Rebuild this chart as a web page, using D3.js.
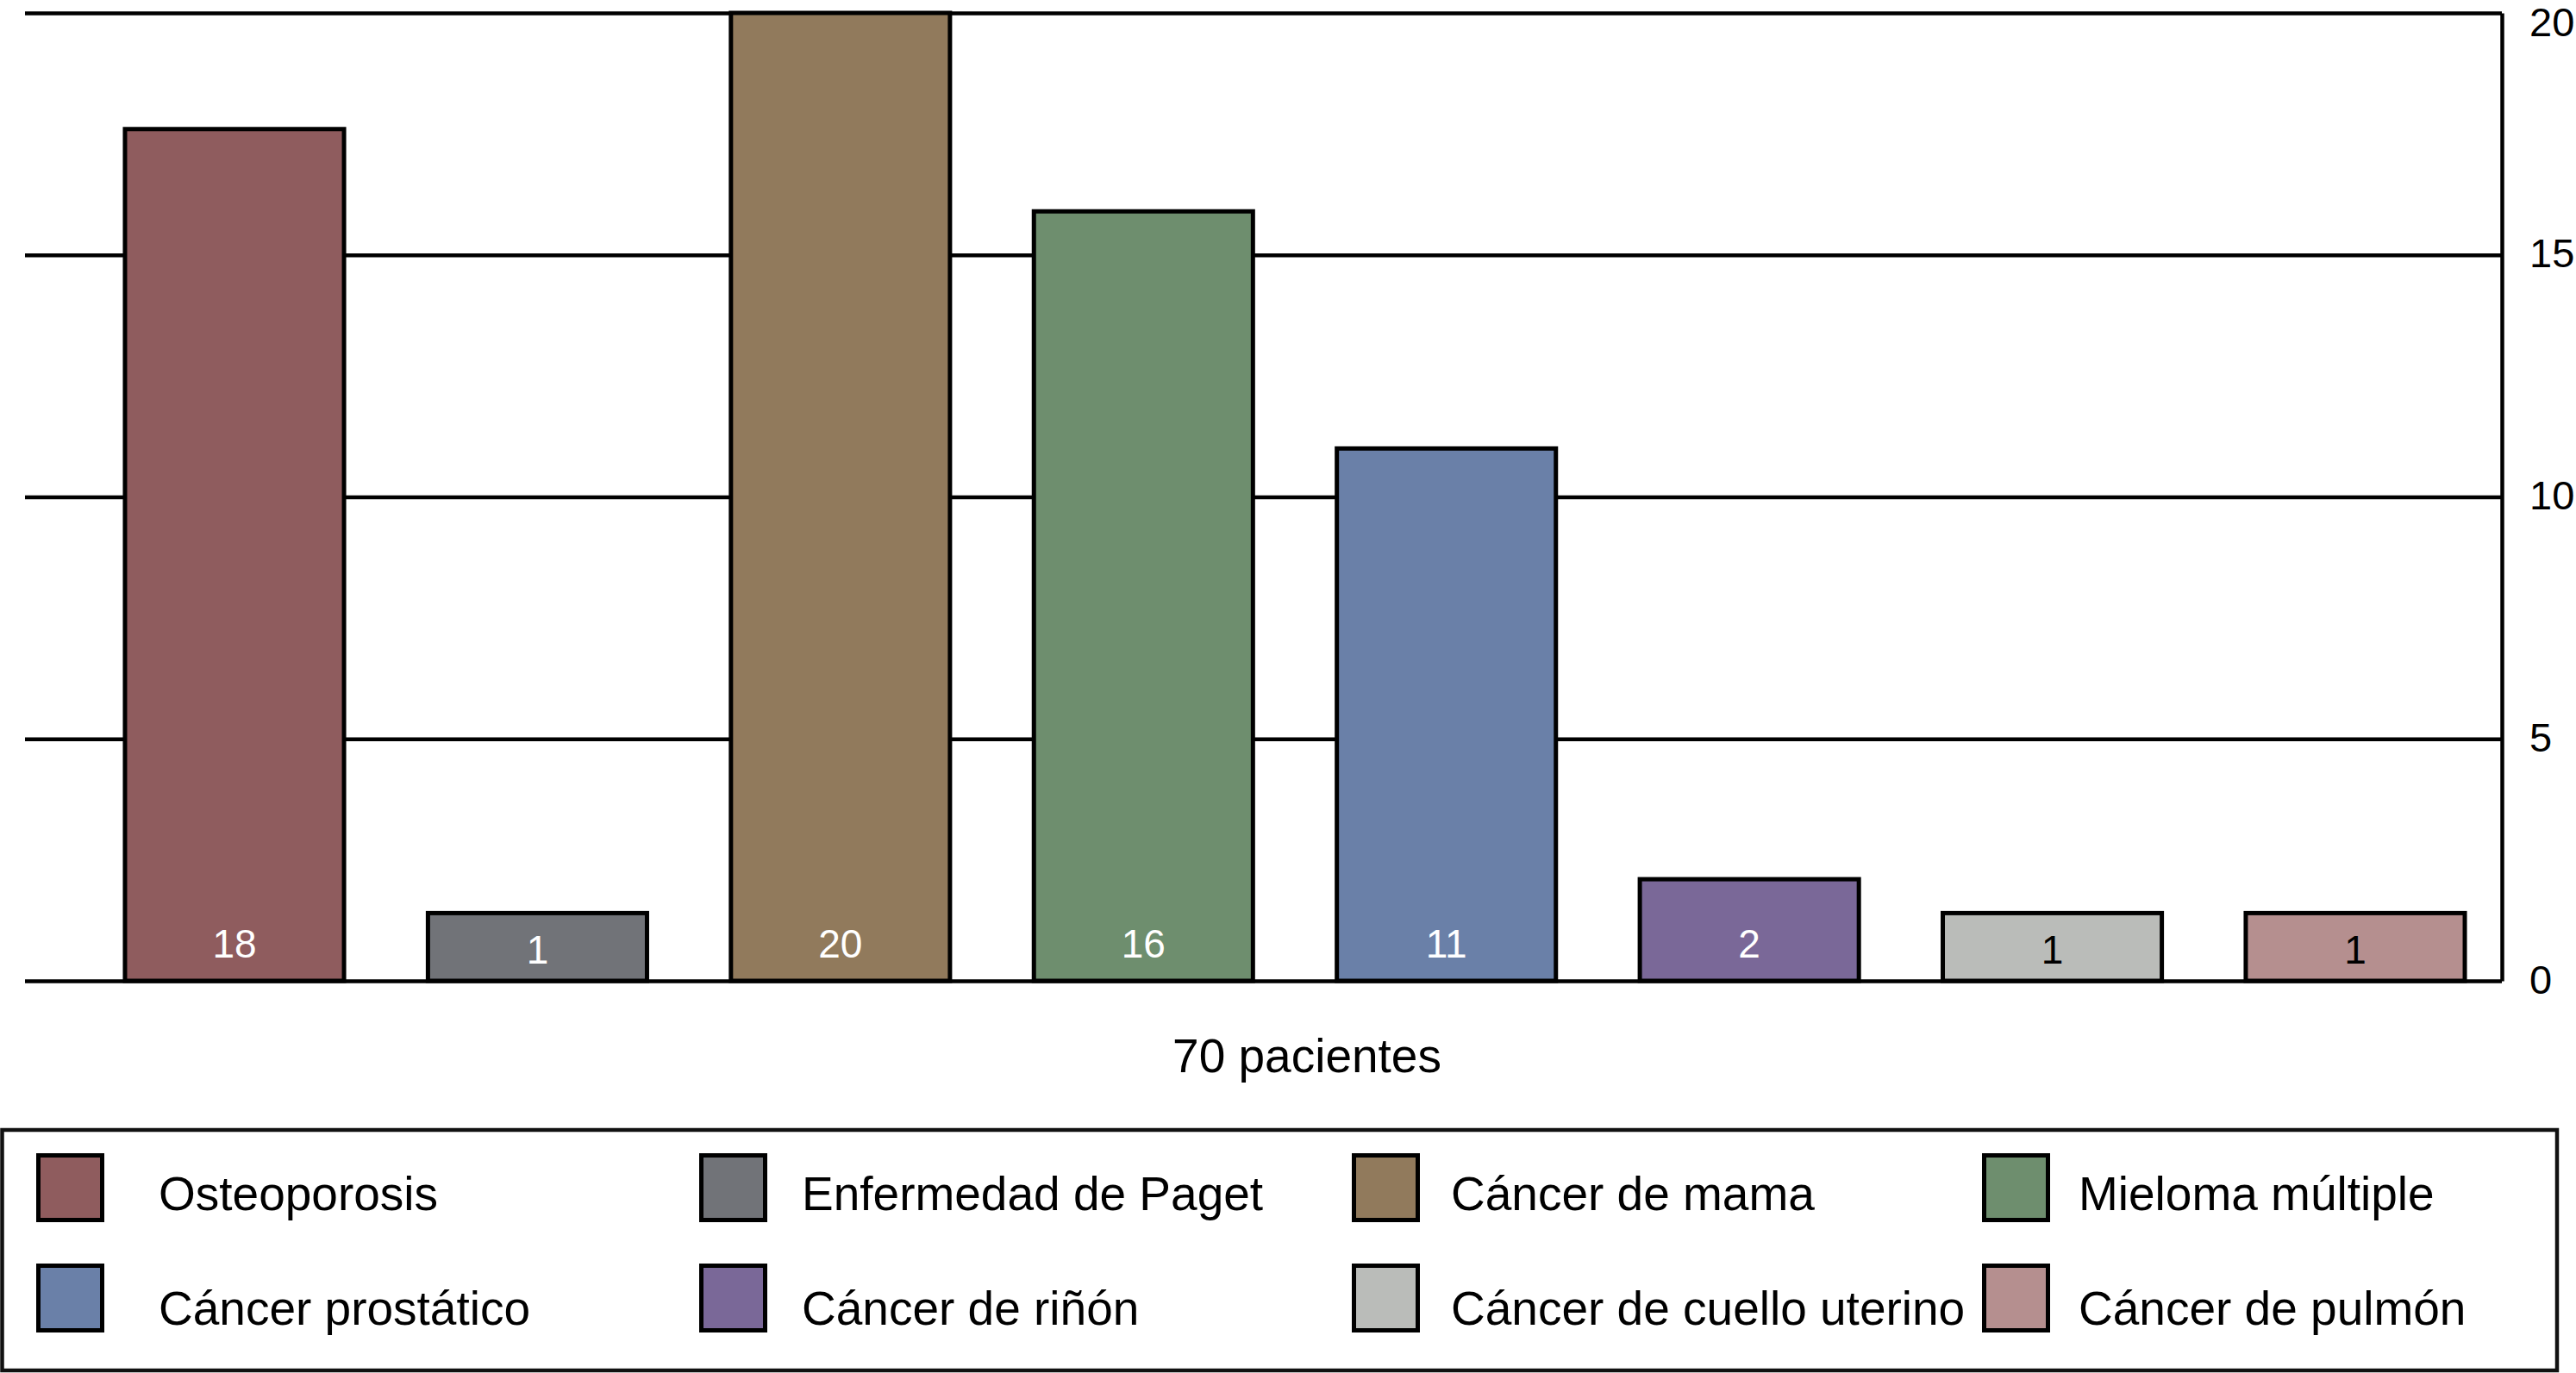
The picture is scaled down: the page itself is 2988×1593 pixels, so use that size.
<!DOCTYPE html>
<html>
<head>
<meta charset="utf-8">
<script src="https://cdn.jsdelivr.net/npm/d3@7"></script>
<style>
  body { margin: 0; background: #fff; }
  text { font-family: "Liberation Sans", Arial, Helvetica, sans-serif; }
</style>
</head>
<body>
<script>
// Data.
const categories = ["Osteoporosis", "Enfermedad de Paget", "Cáncer de mama", "Mieloma múltiple",
  "Cáncer prostático", "Cáncer de riñón", "Cáncer de cuello uterino", "Cáncer de pulmón"];
const barValues = [17.6, 1.4, 20, 15.9, 11, 2.1, 1.4, 1.4];
const barLabels = ["18", "1", "20", "16", "11", "2", "1", "1"];
const yTicks = [0, 5, 10, 15, 20];
const xTitle = "70 pacientes";

const colors = ["#8f5c5e", "#717378", "#917a5c", "#6e8e6e", "#6a80a8", "#7a6898", "#babcb9", "#b58f8f"];
const labelColors = ["#fff", "#fff", "#fff", "#fff", "#fff", "#fff", "#000", "#000"];

const width = 2988;
const height = 1593;

const svg = d3.select("body").append("svg")
    .attr("width", width)
    .attr("height", height);

// Scales.
const gridLeft = 29;
const axisX = 2902;

const x = d3.scaleBand()
    .domain(categories)
    .range([96.3, 2907.7])
    .paddingInner(0.277)
    .paddingOuter(0.1385);

const y = d3.scaleLinear()
    .domain([0, 20])
    .range([1138, 15]);

// Gridlines.
const grid = svg.append("g")
    .attr("transform", `translate(${axisX},0)`)
    .call(d3.axisLeft(y).tickValues(yTicks).tickSize(axisX - gridLeft).tickFormat(""));
grid.select(".domain").remove();
grid.selectAll("line").attr("stroke", "#000").attr("stroke-width", 4.5);

// Right axis with labels.
const axis = svg.append("g")
    .attr("transform", `translate(${axisX},0)`)
    .call(d3.axisRight(y).tickValues(yTicks).tickSize(0).tickPadding(32));
axis.select(".domain").attr("stroke", "#000").attr("stroke-width", 4.5);
axis.selectAll("text")
    .attr("font-size", 47)
    .attr("fill", "#000")
    .attr("font-family", '"Liberation Sans", Arial, sans-serif')
    .attr("dy", d => d === 20 ? "0.57em" : "0.3em");

// Bars.
const bar = svg.selectAll(".bar")
    .data(categories)
    .enter().append("g")
    .attr("class", "bar");

bar.append("rect")
    .attr("x", d => x(d))
    .attr("y", (d, i) => y(barValues[i]))
    .attr("width", x.bandwidth())
    .attr("height", (d, i) => y(0) - y(barValues[i]))
    .attr("fill", (d, i) => colors[i])
    .attr("stroke", "#000")
    .attr("stroke-width", 5);

bar.append("text")
    .attr("x", d => x(d) + x.bandwidth() / 2)
    .attr("y", (d, i) => barValues[i] < 2 ? y(0) - 20 : y(0) - 27)
    .attr("text-anchor", "middle")
    .attr("font-size", 46)
    .attr("fill", (d, i) => labelColors[i])
    .text((d, i) => barLabels[i]);

// Axis title.
svg.append("text")
    .attr("x", 1516)
    .attr("y", 1244)
    .attr("text-anchor", "middle")
    .attr("font-size", 55)
    .attr("fill", "#000")
    .text(xTitle);

// Legend.
svg.append("rect")
    .attr("x", 2.5)
    .attr("y", 1311)
    .attr("width", 2963.5)
    .attr("height", 279)
    .attr("fill", "none")
    .attr("stroke", "#111")
    .attr("stroke-width", 4.5);

const swatchX = [44.5, 813.5, 1570.5, 2301.5];
const textX = [184, 930, 1683, 2411];
const rowY = [1340.5, 1468.5];
const rowBase = [1404, 1537];

const item = svg.selectAll(".legend-item")
    .data(categories)
    .enter().append("g")
    .attr("class", "legend-item");

item.append("rect")
    .attr("x", (d, i) => swatchX[i % 4])
    .attr("y", (d, i) => rowY[Math.floor(i / 4)])
    .attr("width", 74)
    .attr("height", 75)
    .attr("fill", (d, i) => colors[i])
    .attr("stroke", "#000")
    .attr("stroke-width", 5);

item.append("text")
    .attr("x", (d, i) => textX[i % 4])
    .attr("y", (d, i) => rowBase[Math.floor(i / 4)])
    .attr("font-size", 55)
    .attr("fill", "#000")
    .text(d => d);
</script>
</body>
</html>
